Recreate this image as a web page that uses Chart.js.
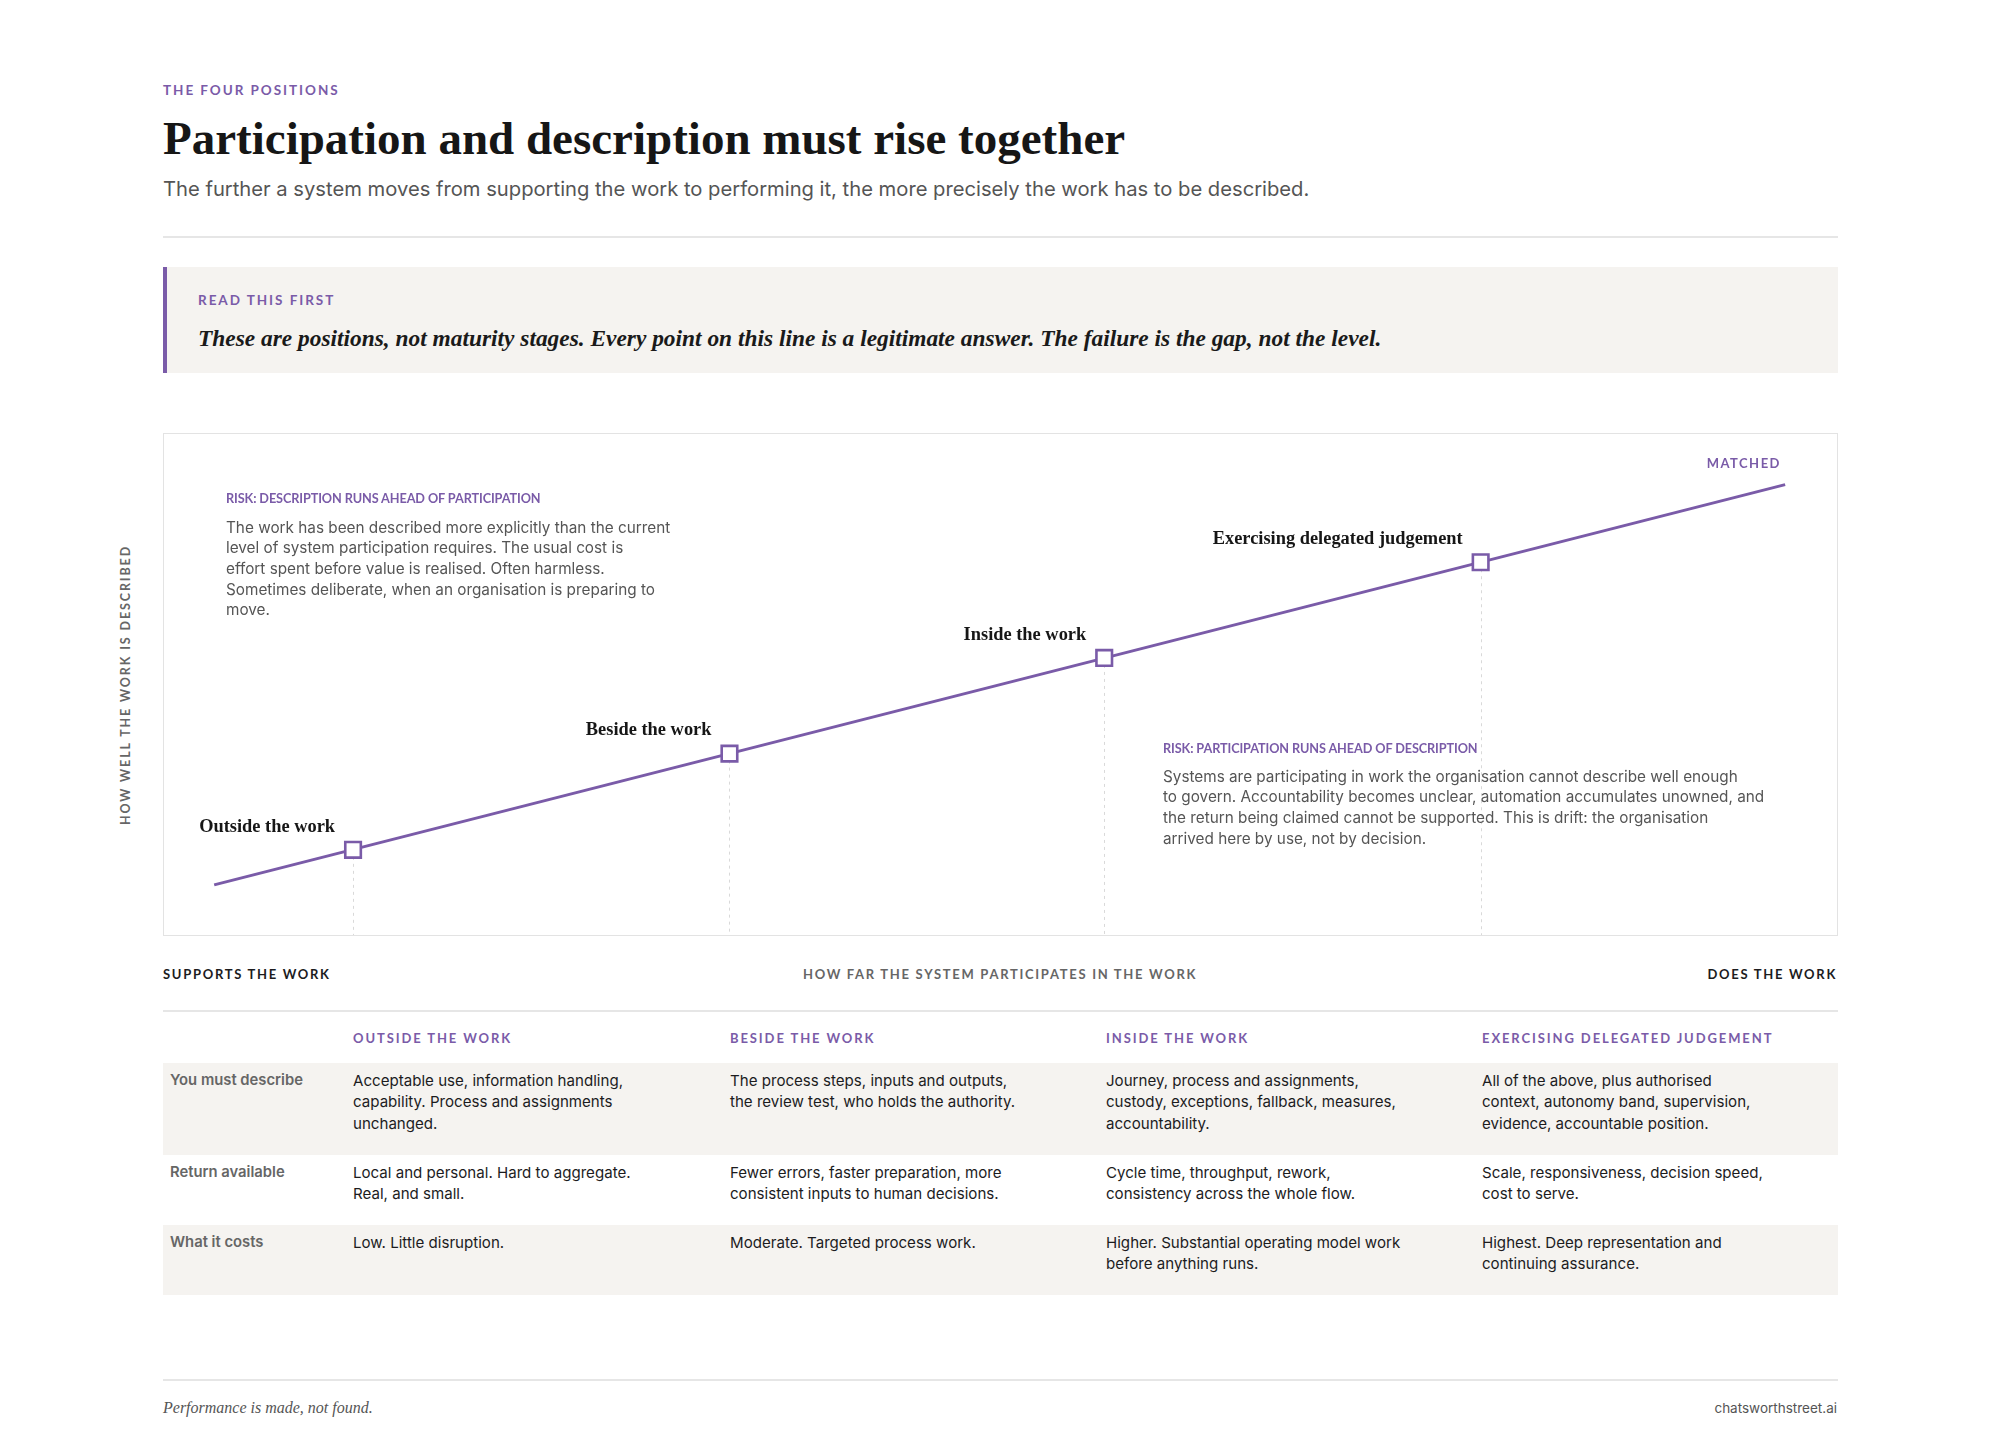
<!DOCTYPE html>
<html lang="en">
<head>
<meta charset="UTF-8" />
<script src="https://cdn.jsdelivr.net/npm/chart.js"></script>
<title>The four positions</title>
<style>
  body { margin:0; background:#fff; width:2000px; height:1450px; position:relative; font-family:Inter, "Noto Sans", sans-serif; color:#1c1c1e; overflow:hidden; }
  .abs { position:absolute; white-space:nowrap; }
  .caps { font-family:Lato, sans-serif; font-weight:700; text-transform:uppercase; }
  .purple { color:#7a5ba8; }
  #kicker { left:163px; top:81px; font-size:13.5px; line-height:18px; letter-spacing:1.95px; }
  h1 { position:absolute; margin:0; left:163px; top:109px; font-family:"Liberation Serif", serif; font-weight:700; font-size:47px; line-height:58px; color:#161616; white-space:nowrap; }
  #sub { left:163px; top:176px; font-size:20.2px; line-height:26px; color:#555; }
  .rule { position:absolute; left:163px; width:1675px; height:2px; background:#e6e6e6; }
  #callout { position:absolute; left:163px; top:267px; width:1675px; height:106px; background:#f5f3f0; border-left:4px solid #7a5ba8; box-sizing:border-box; }
  #callout .lead { left:31px; top:24px; font-size:13.5px; line-height:18px; letter-spacing:1.95px; }
  #callout .quote { left:31px; top:55px; font-family:"Liberation Serif", serif; font-style:italic; font-weight:700; font-size:23.4px; line-height:32px; color:#1a1a1a; }
  #chartbox { position:absolute; left:163px; top:433px; width:1675px; height:503px; border:1px solid #e3e3e3; box-sizing:border-box; }
  #chartbox canvas { position:absolute; left:0; top:0; }
  .riskhead { font-family:Lato, sans-serif; font-size:12.7px; line-height:16px; font-weight:700; letter-spacing:-0.1px; text-transform:uppercase; }
  .riskbody { font-size:15.3px; line-height:20.7px; color:#555; }
  #matched { right:56px; top:20px; font-size:13px; line-height:18px; letter-spacing:1.5px; }
  #yTitle { left:125px; top:685px; transform:translate(-50%,-50%) rotate(-90deg); font-size:12.5px; letter-spacing:1.9px; color:#666; }
  .axislab { top:965px; font-size:13px; line-height:18px; letter-spacing:1.7px; }
  table { position:absolute; left:163px; top:1012px; width:1675px; border-collapse:collapse; table-layout:fixed; }
  td, th { padding:0; white-space:nowrap; text-align:left; vertical-align:top; }
  th { height:51px; vertical-align:middle; font-family:Lato, sans-serif; font-size:13px; letter-spacing:1.9px; font-weight:700; color:#7a5ba8; text-transform:uppercase; }
  td { padding-top:7px; font-size:15.1px; line-height:21.3px; color:#1c1c1e; }
  td.rl { padding-left:7px; color:#666; font-weight:600; font-size:14.8px; }
  tr.shade td { background:#f5f3f0; }
  #foot1 { left:163px; top:1398px; font-family:"Liberation Serif", serif; font-style:italic; font-size:16px; line-height:20px; color:#555; }
  #foot2 { right:163px; top:1399px; font-size:13.5px; line-height:18px; color:#555; }
</style>
</head>
<body>
  <div id="kicker" class="abs caps purple">The four positions</div>
  <h1>Participation and description must rise together</h1>
  <div id="sub" class="abs">The further a system moves from supporting the work to performing it, the more precisely the work has to be described.</div>
  <div class="rule" style="top:236px"></div>

  <div id="callout">
    <div class="abs caps purple lead">Read this first</div>
    <div class="abs quote">These are positions, not maturity stages. Every point on this line is a legitimate answer. The failure is the gap, not the level.</div>
  </div>

  <div id="yTitle" class="abs caps">How well the work is described</div>

  <div id="chartbox">
    <canvas id="grafico"></canvas>
    <div id="matched" class="abs caps purple">Matched</div>
    <div class="abs riskhead purple" id="risk1head" style="left:62px; top:56px"></div>
    <div class="abs riskbody" id="risk1body" style="left:62px; top:83.6px"></div>
    <div class="abs riskhead purple" id="risk2head" style="left:999px; top:306px"></div>
    <div class="abs riskbody" id="risk2body" style="left:999px; top:332.7px"></div>
  </div>

  <div class="abs caps axislab" style="left:163px; color:#1c1c1e">Supports the work</div>
  <div class="abs caps axislab" style="left:1000px; transform:translateX(-50%); color:#666">How far the system participates in the work</div>
  <div class="abs caps axislab" style="right:163px; color:#1c1c1e">Does the work</div>
  <div class="rule" style="top:1010px"></div>

  <table id="tabla">
    <colgroup><col style="width:190px"><col style="width:377px"><col style="width:376px"><col style="width:376px"><col style="width:356px"></colgroup>
    <thead><tr id="cabecera"><th></th></tr></thead>
    <tbody id="cuerpo"></tbody>
  </table>

  <div class="rule" style="top:1379px"></div>
  <div id="foot1" class="abs">Performance is made, not found.</div>
  <div id="foot2" class="abs">chatsworthstreet.ai</div>

  <script>
    // posiciones sobre la linea (0-100 en ambos ejes)
    const positionNames = ['Outside the work', 'Beside the work', 'Inside the work', 'Exercising delegated judgement'];
    const participation = [11.3, 33.8, 56.2, 78.7];
    const description = [17.0, 36.2, 55.3, 74.4];
    const lineParticipation = [3.0, 96.9];
    const lineDescription = [10.0, 89.9];

    const risk1Title = 'Risk: description runs ahead of participation';
    const risk1Lines = [
      'The work has been described more explicitly than the current',
      'level of system participation requires. The usual cost is',
      'effort spent before value is realised. Often harmless.',
      'Sometimes deliberate, when an organisation is preparing to',
      'move.'
    ];
    const risk2Title = 'Risk: participation runs ahead of description';
    const risk2Lines = [
      'Systems are participating in work the organisation cannot describe well enough',
      'to govern. Accountability becomes unclear, automation accumulates unowned, and',
      'the return being claimed cannot be supported. This is drift: the organisation',
      'arrived here by use, not by decision.'
    ];

    const rowLabels = ['You must describe', 'Return available', 'What it costs'];
    const mustDescribe = [
      ['Acceptable use, information handling,', 'capability. Process and assignments', 'unchanged.'],
      ['The process steps, inputs and outputs,', 'the review test, who holds the authority.'],
      ['Journey, process and assignments,', 'custody, exceptions, fallback, measures,', 'accountability.'],
      ['All of the above, plus authorised', 'context, autonomy band, supervision,', 'evidence, accountable position.']
    ];
    const returnAvailable = [
      ['Local and personal. Hard to aggregate.', 'Real, and small.'],
      ['Fewer errors, faster preparation, more', 'consistent inputs to human decisions.'],
      ['Cycle time, throughput, rework,', 'consistency across the whole flow.'],
      ['Scale, responsiveness, decision speed,', 'cost to serve.']
    ];
    const whatItCosts = [
      ['Low. Little disruption.'],
      ['Moderate. Targeted process work.'],
      ['Higher. Substantial operating model work', 'before anything runs.'],
      ['Highest. Deep representation and', 'continuing assurance.']
    ];

    document.getElementById('risk1head').textContent = risk1Title;
    document.getElementById('risk1body').innerHTML = risk1Lines.join('<br>');
    document.getElementById('risk2head').textContent = risk2Title;
    document.getElementById('risk2body').innerHTML = risk2Lines.join('<br>');

    // tabla
    const cabecera = document.getElementById('cabecera');
    positionNames.forEach(n => {
      const th = document.createElement('th');
      th.textContent = n;
      cabecera.appendChild(th);
    });
    const cuerpo = document.getElementById('cuerpo');
    const filas = [mustDescribe, returnAvailable, whatItCosts];
    const alturas = [92, 70, 70];
    filas.forEach((fila, i) => {
      const tr = document.createElement('tr');
      if (i !== 1) tr.className = 'shade';
      tr.style.height = alturas[i] + 'px';
      const td = document.createElement('td');
      td.className = 'rl';
      td.textContent = rowLabels[i];
      tr.appendChild(td);
      fila.forEach(lineas => {
        const c = document.createElement('td');
        c.innerHTML = lineas.join('<br>');
        tr.appendChild(c);
      });
      cuerpo.appendChild(tr);
    });

    const morado = '#7a5ba8';

    // lineas punteadas y etiquetas de cada posicion
    const etiquetas = {
      id: 'etiquetas',
      beforeDatasetsDraw(chart) {
        const { ctx, scales: { x, y }, chartArea } = chart;
        ctx.save();
        ctx.strokeStyle = '#d9d9d9';
        ctx.lineWidth = 1;
        ctx.setLineDash([3, 4]);
        participation.forEach((p, i) => {
          const px = Math.round(x.getPixelForValue(p)) + 0.5;
          ctx.beginPath();
          ctx.moveTo(px, y.getPixelForValue(description[i]));
          ctx.lineTo(px, chartArea.bottom);
          ctx.stroke();
        });
        ctx.restore();
      },
      afterDatasetsDraw(chart) {
        const { ctx, scales: { x, y } } = chart;
        ctx.save();
        ctx.font = "bold 18.4px 'Liberation Serif'";
        ctx.fillStyle = '#161616';
        ctx.textAlign = 'right';
        ctx.textBaseline = 'middle';
        positionNames.forEach((n, i) => {
          ctx.fillText(n, x.getPixelForValue(participation[i]) - 18, y.getPixelForValue(description[i]) - 23);
        });
        ctx.restore();
      }
    };

    const ctx = document.getElementById('grafico').getContext('2d');
    new Chart(ctx, {
      type: 'scatter',
      data: {
        datasets: [
          {
            data: participation.map((p, i) => ({ x: p, y: description[i] })),
            pointStyle: 'rect',
            pointRadius: 11,
            pointHoverRadius: 11,
            pointBackgroundColor: '#fff',
            pointBorderColor: morado,
            pointBorderWidth: 2.6,
            showLine: false,
            order: 0
          },
          {
            data: lineParticipation.map((p, i) => ({ x: p, y: lineDescription[i] })),
            showLine: true,
            borderColor: morado,
            borderWidth: 3,
            pointRadius: 0,
            order: 1
          }
        ]
      },
      options: {
        responsive: true,
        maintainAspectRatio: false,
        animation: false,
        layout: { padding: 0, autoPadding: false },
        plugins: { legend: { display: false }, tooltip: { enabled: false } },
        scales: {
          x: { type: 'linear', min: 0, max: 100, display: false },
          y: { type: 'linear', min: 0, max: 100, display: false }
        }
      },
      plugins: [etiquetas]
    });
  </script>
</body>
</html>
